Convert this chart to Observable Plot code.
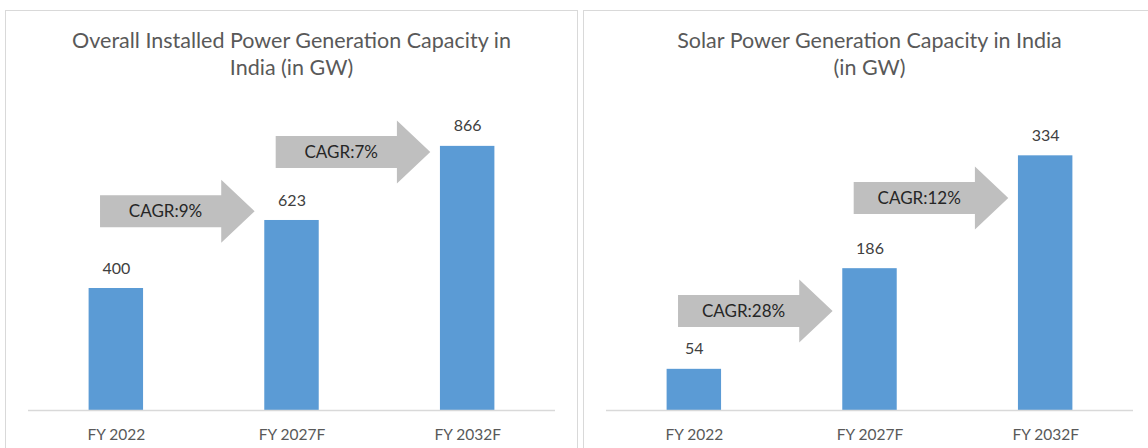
<!DOCTYPE html>
<html><head><meta charset="utf-8">
<script src="https://cdn.jsdelivr.net/npm/d3@7"></script>
<script src="https://cdn.jsdelivr.net/npm/@observablehq/plot@0.6"></script>
<style>
html,body{margin:0;padding:0;background:#fff}
body{width:1148px;height:448px;overflow:hidden;font-family:Lato,sans-serif;position:relative}
.panel{position:absolute;top:10px;width:571px;height:460px;border:1px solid #d9d9d9;background:#fff}
.title{text-align:center;color:#595959;font-size:21.5px;line-height:27px;padding-top:16px;height:54px;white-space:nowrap}
.panel svg{display:block}
</style></head><body>
<div id="p1" class="panel" style="left:5px"></div>
<div id="p2" class="panel" style="left:583px"></div>
<script>
const categories = ["FY 2022", "FY 2027F", "FY 2032F"];
const overallValues = [400, 623, 866];
const solarValues = [54, 186, 334];
const overallCagr = ["CAGR:9%", "CAGR:7%"];
const solarCagr = ["CAGR:28%", "CAGR:12%"];
const overallArrowLevel = [652, 846];
const solarArrowLevel = [130, 278];
const overallTitle = ["Overall Installed Power Generation Capacity in", "India (in GW)"];
const solarTitle = ["Solar Power Generation Capacity in India", "(in GW)"];
const overallMax = 1000;
const solarMax = 400;

function panel(el, titleLines, values, yMax, cagr, levels) {
  const W = 571, H = 370, mt = 24, mb = 41, ml = 22, mr = 22;
  const ppu = (H - mt - mb) / yMax;
  const bodyHalf = 16 / ppu, headHalf = 31.5 / ppu;
  const bars = categories.map((c, i) => ({i, c, v: values[i]}));
  const arrows = cagr.map((label, k) => ({label, k, level: levels[k]}));
  const arrowPts = arrows.flatMap(a => [
    {id: a.k, x: a.k - 0.09, y1: a.level - bodyHalf, y2: a.level + bodyHalf},
    {id: a.k, x: a.k + 0.6, y1: a.level - bodyHalf, y2: a.level + bodyHalf},
    {id: a.k, x: a.k + 0.6, y1: a.level - headHalf, y2: a.level + headHalf},
    {id: a.k, x: a.k + 0.79, y1: a.level, y2: a.level}
  ]);
  const t = document.createElement("div");
  t.className = "title";
  t.innerHTML = titleLines.join("<br>");
  el.appendChild(t);
  const chart = Plot.plot({
    width: W, height: H, marginTop: mt, marginBottom: mb, marginLeft: ml, marginRight: mr,
    x: {domain: [-0.5, 2.5], axis: null},
    y: {domain: [0, yMax], axis: null},
    style: {fontFamily: "Lato, sans-serif", background: "transparent", overflow: "visible", color: "#595959"},
    marks: [
      Plot.rectY(bars, {x1: d => d.i - 0.155, x2: d => d.i + 0.155, y: "v", fill: "#5b9bd5"}),
      Plot.ruleY([0], {stroke: "#d9d9d9", strokeWidth: 1.5}),
      Plot.text(bars, {x: "i", y: "v", text: d => String(d.v), dy: -20, fontSize: 16, fill: "#404040"}),
      Plot.axisX({ticks: [0, 1, 2], tickFormat: i => categories[i], tickSize: 0, tickPadding: 18, fontSize: 15.5}),
      Plot.area(arrowPts, {x1: "x", y1: "y1", y2: "y2", z: "id", fill: "#bfbfbf"}),
      Plot.text(arrows, {x: d => d.k + 0.28, y: "level", text: "label", fontSize: 17, fill: "#262626"})
    ]
  });
  el.appendChild(chart);
}
panel(document.getElementById("p1"), overallTitle, overallValues, overallMax, overallCagr, overallArrowLevel);
panel(document.getElementById("p2"), solarTitle, solarValues, solarMax, solarCagr, solarArrowLevel);
</script>
</body></html>
